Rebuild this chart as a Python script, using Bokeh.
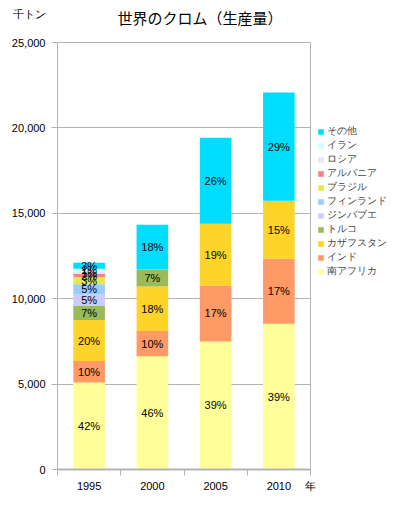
from bokeh.plotting import figure
from bokeh.models import (ColumnDataSource, Range1d, FixedTicker, NumeralTickFormatter,
                          Legend, LegendItem, LinearAxis)
from bokeh.core.properties import value
from bokeh.embed import file_html
from bokeh.resources import INLINE

# ---- data (thousand tonnes) ----
years = [1995, 2000, 2005, 2010]
south_africa = [5100, 6630, 7500, 8540]
india = [1250, 1480, 3280, 3800]
kazakhstan = [2400, 2610, 3610, 3400]
turkey = [850, 990, 0, 0]
zimbabwe = [650, 0, 0, 0]
finland = [600, 0, 0, 0]
brazil = [400, 0, 0, 0]
albania = [200, 0, 0, 0]
russia = [150, 0, 0, 0]
iran = [150, 0, 0, 0]
others = [350, 2620, 5030, 6330]

series_keys = ["south_africa", "india", "kazakhstan", "turkey", "zimbabwe", "finland",
               "brazil", "albania", "russia", "iran", "others"]
series_labels = ["南アフリカ", "インド", "カザフスタン", "トルコ", "ジンバブエ", "フィンランド",
                 "ブラジル", "アルバニア", "ロシア", "イラン", "その他"]
series_values = [south_africa, india, kazakhstan, turkey, zimbabwe, finland,
                 brazil, albania, russia, iran, others]
colors = ["#FFFF99", "#FF9966", "#FFD42A", "#9BBB59", "#CCCCFF", "#99CCFF",
          "#E6E64D", "#FF8080", "#E6E6FA", "#CCFFFF", "#00DDFF"]
y_ticks = [0, 5000, 10000, 15000, 20000, 25000]

title_text = "世界のクロム（生産量）"
unit_text = "千トン"
year_unit = "年"

JP = "Noto Sans CJK JP"
NUM = "Liberation Sans"
GRAY = "#b3b3b3"
FRAME_W = 253
TITLE_CX = 142.5   # title centre, pixels from the left of the plot area

data = {"year": years}
for k, v in zip(series_keys, series_values):
    data[k] = v
source = ColumnDataSource(data)

half = 2.5
p = figure(frame_width=FRAME_W, frame_height=427, output_backend="svg", toolbar_location=None,
           x_range=Range1d(years[0] - half, years[-1] + half),
           y_range=Range1d(y_ticks[0], y_ticks[-1]), title=None,
           min_border_left=57, min_border_right=88, min_border_top=42, min_border_bottom=36)
p.outline_line_color = GRAY
p.outline_line_width = 1

xa = p.below[0]
ya = p.left[0]

# title, carried by a bare axis above the plot area
p.extra_x_ranges = {"px": Range1d(0, FRAME_W)}
tax = LinearAxis(x_range_name="px", ticker=FixedTicker(ticks=[TITLE_CX]),
                 major_label_overrides={TITLE_CX: title_text},
                 axis_line_color=None, major_tick_line_color=None, minor_tick_line_color=None,
                 major_tick_out=0, major_tick_in=0, major_label_standoff=15,
                 major_label_text_font=JP, major_label_text_font_size="15px",
                 major_label_text_color="black")
p.add_layout(tax, "above")

renderers = p.vbar_stack(series_keys, x="year", width=2.5, color=colors, line_color=None,
                         source=source)

# percent labels
lx, ly, lt = [], [], []
totals = [sum(s[i] for s in series_values) for i in range(len(years))]
for i, yr in enumerate(years):
    base = 0
    for s in series_values:
        v = s[i]
        if v > 0:
            lx.append(yr)
            ly.append(base + v / 2)
            lt.append(f"{round(v / totals[i] * 100)}%")
        base += v
p.text(x=lx, y=ly, text=lt, text_align="center", text_baseline="middle",
       text_font=value(NUM), text_font_size="11px", text_color="black")

# axes
edges = [y - half for y in years] + [years[-1] + half]
xa.ticker = FixedTicker(ticks=years + [edges[-1]], minor_ticks=edges)
xa.major_label_overrides = {edges[-1]: year_unit}
xa.axis_line_color = GRAY
xa.axis_line_width = 2
xa.major_tick_line_color = None
xa.major_tick_out = 5
xa.major_tick_in = 0
xa.minor_tick_line_color = GRAY
xa.minor_tick_out = 6
xa.minor_tick_in = 0
xa.minor_tick_line_width = 1
xa.major_label_standoff = 4
xa.major_label_text_font = NUM
xa.major_label_text_font_size = "11px"
xa.major_label_text_color = "black"

ya.ticker = FixedTicker(ticks=y_ticks)
ya.formatter = NumeralTickFormatter(format="0,0")
# unit caption sits two lines above the top tick label
ya.major_label_overrides = {y_ticks[-1]: f"{unit_text}\n\n{y_ticks[-1]:,}\n\n"}
ya.axis_line_color = GRAY
ya.axis_line_width = 1
ya.major_tick_line_color = GRAY
ya.major_tick_out = 6
ya.major_tick_in = 0
ya.minor_tick_line_color = None
ya.major_label_standoff = 6
ya.major_label_text_font = NUM
ya.major_label_text_font_size = "11px"
ya.major_label_text_color = "black"

p.xgrid.grid_line_color = None
p.ygrid.grid_line_color = GRAY
p.ygrid.grid_line_width = 1

# legend
items = [LegendItem(label=lab, renderers=[r]) for lab, r in zip(series_labels, renderers)]
items.reverse()
legend = Legend(items=items, location=(7, 191), orientation="vertical",
                border_line_color=None, background_fill_alpha=0,
                label_text_font=NUM, label_text_font_size="10px",
                glyph_width=7, glyph_height=7, label_height=12, spacing=0,
                padding=0, margin=0, label_standoff=3)
p.add_layout(legend, "right")

open("out.html", "w").write(file_html(p, INLINE))
